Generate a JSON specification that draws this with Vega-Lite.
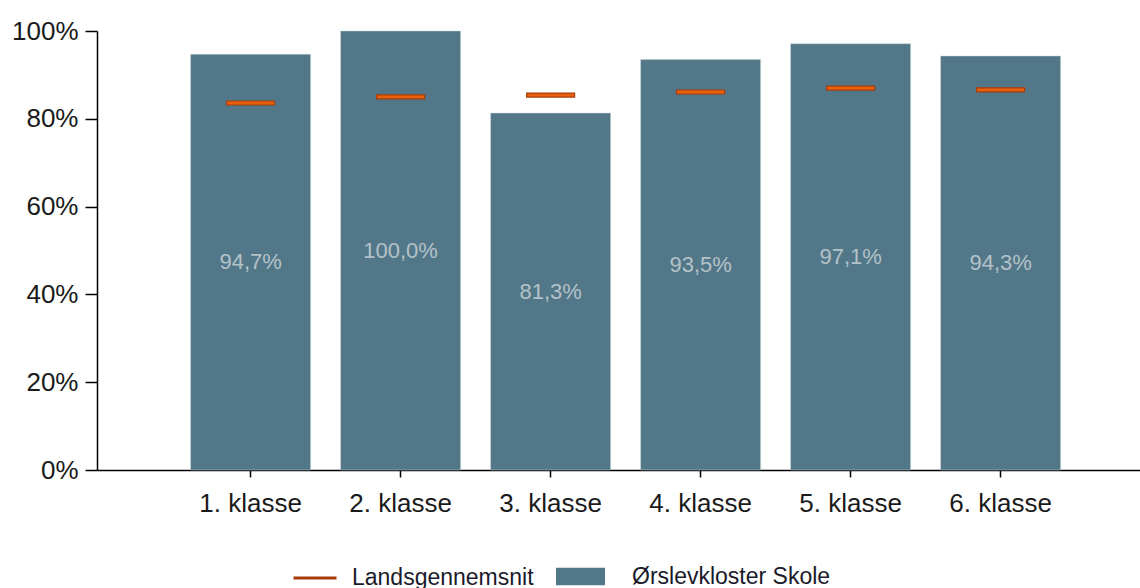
{
  "$schema": "https://vega.github.io/schema/vega-lite/v6.json",
  "autosize": "none",
  "width": 1050,
  "height": 439,
  "padding": {"left": 97, "top": 31, "right": 0, "bottom": 118},
  "background": "white",
  "config": {
    "view": {"stroke": null},
    "font": "Liberation Sans",
    "locale": {"number": {"decimal": ",", "thousands": ".", "grouping": [3], "currency": ["", " kr."]}}
  },
  "data": {
    "values": [
      {"klasse": "1. klasse", "skole": 0.947, "lands": 0.836},
      {"klasse": "2. klasse", "skole": 1.0, "lands": 0.850},
      {"klasse": "3. klasse", "skole": 0.813, "lands": 0.854},
      {"klasse": "4. klasse", "skole": 0.935, "lands": 0.861},
      {"klasse": "5. klasse", "skole": 0.971, "lands": 0.870},
      {"klasse": "6. klasse", "skole": 0.943, "lands": 0.866}
    ]
  },
  "encoding": {
    "x": {
      "field": "klasse", "type": "nominal", "sort": null,
      "scale": {"paddingInner": 0.2, "paddingOuter": 0.6, "align": 0.52},
      "axis": {
        "title": null, "labelAngle": 0, "labelFontSize": 26, "labelColor": "#1a1a1a",
        "labelPadding": 13, "tickSize": 7, "tickColor": "#000", "domainColor": "#000",
        "tickWidth": 1.5, "domainWidth": 1.5
      }
    }
  },
  "layer": [
    {
      "mark": {"type": "bar", "stroke": "#c8d4da", "strokeWidth": 0.5},
      "encoding": {
        "y": {
          "field": "skole", "type": "quantitative",
          "scale": {"domain": [0, 1], "nice": false},
          "axis": {
            "title": null, "format": ".0%", "values": [0, 0.2, 0.4, 0.6, 0.8, 1.0],
            "labelFontSize": 26, "labelColor": "#1a1a1a", "labelPadding": 7,
            "tickSize": 12, "tickColor": "#000", "domainColor": "#000", "grid": false,
            "tickWidth": 1.5, "domainWidth": 1.5
          }
        },
        "fill": {
          "datum": "Ørslevkloster Skole",
          "scale": {"range": ["#527789"]},
          "legend": {
            "title": null, "orient": "none", "legendX": 459, "legendY": 521,
            "symbolType": "M-1,-0.36L1,-0.36L1,0.36L-1,0.36Z", "symbolSize": 2401,
            "symbolStrokeWidth": 0, "labelFontSize": 23, "labelColor": "#1a1a2a",
            "labelOffset": 27, "labelLimit": 400
          }
        }
      }
    },
    {
      "transform": [{"calculate": "datum.skole / 2", "as": "mid"}],
      "mark": {"type": "text", "fontSize": 22, "color": "#b4c2c8", "baseline": "middle"},
      "encoding": {
        "y": {"field": "mid", "type": "quantitative"},
        "text": {"field": "skole", "type": "quantitative", "format": ".1%"}
      }
    },
    {
      "mark": {"type": "tick", "size": 48, "thickness": 4, "stroke": "#a83c08", "strokeWidth": 1.2, "opacity": 1},
      "encoding": {
        "y": {"field": "lands", "type": "quantitative"},
        "color": {
          "datum": "Landsgennemsnit",
          "scale": {"range": ["#e8600c"]},
          "legend": {
            "title": null, "orient": "none", "legendX": 195, "legendY": 524,
            "symbolType": "stroke", "symbolSize": 1849, "symbolStrokeWidth": 3,
            "labelFontSize": 23, "labelColor": "#1a1a2a", "labelOffset": 14, "labelLimit": 400
          }
        }
      }
    }
  ],
  "resolve": {"scale": {"color": "independent", "fill": "independent"}}
}
